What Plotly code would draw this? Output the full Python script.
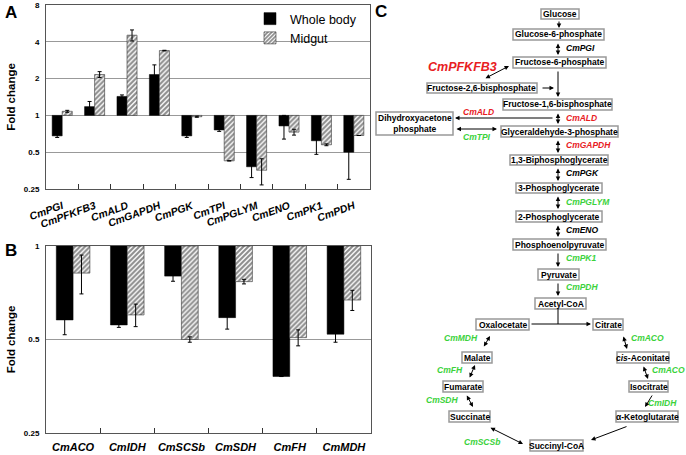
import numpy as np
import plotly.graph_objects as go

# ---- data: panel A (glycolysis genes) ----
genes_a = ["CmPGI", "CmPFKFB3", "CmALD", "CmGAPDH", "CmPGK",
           "CmTPI", "CmPGLYM", "CmENO", "CmPK1", "CmPDH"]
whole_a = [0.68, 1.18, 1.43, 2.16, 0.68, 0.76, 0.38, 0.82, 0.62, 0.50]
whole_a_err = [0.02, 0.12, 0.04, 0.43, 0.02, 0.02, 0.07, 0.18, 0.14, 0.20]
midgut_a = [1.08, 2.16, 4.53, 3.39, 0.975, 0.425, 0.356, 0.73, 0.575, 0.685]
midgut_a_err = [0.02, 0.12, 0.47, 0.02, 0.01, 0.0, 0.086, 0.04, 0.01, 0.0]

# ---- data: panel B (TCA genes) ----
genes_b = ["CmACO", "CmIDH", "CmSCSb", "CmSDH", "CmFH", "CmMDH"]
whole_b = [0.578, 0.557, 0.80, 0.588, 0.38, 0.52]
whole_b_err = [0.06, 0.01, 0.03, 0.048, 0.0, 0.03]
midgut_b = [0.818, 0.60, 0.50, 0.768, 0.507, 0.67]
midgut_b_err = [0.117, 0.05, 0.01, 0.013, 0.03, 0.05]

fold_ticks = [0.25, 0.5, 1, 2, 4, 8]

# ---- panel C: pathway nodes (label -> box in pixels x0, x1, y0, y1) ----
nodes = {
    "Glucose": (541, 579, 9, 19),
    "Glucose-6-phosphate": (513, 604, 29, 40),
    "Fructose-6-phosphate": (513, 606, 57, 68),
    "Fructose-2,6-bisphosphate": (427, 537, 83, 93),
    "Fructose-1,6-bisphosphate": (503, 612, 99, 110),
    "Dihydroxyacetone<br>phosphate": (376, 453, 112, 135),
    "Glyceraldehyde-3-phosphate": (501, 618, 126, 137),
    "1,3-Biphosphoglycerate": (510, 608, 155, 165),
    "3-Phosphoglycerate": (516, 602, 183, 193),
    "2-Phosphoglycerate": (516, 602, 211, 222),
    "Phosphoenolpyruvate": (513, 606, 239, 250),
    "Pyruvate": (538, 579, 269, 280),
    "Acetyl-CoA": (535, 586, 298, 309),
    "Oxalocetate": (476, 529, 319, 330),
    "Citrate": (593, 623, 319, 330),
    "Malate": (462, 492, 352, 363),
    "<i>cis</i>-Aconitate": (617, 669, 352, 363),
    "Fumarate": (443, 483, 381, 392),
    "Isocitrate": (629, 668, 381, 392),
    "Succinate": (449, 490, 411, 422),
    "α-Ketoglutarate": (616, 678, 411, 422),
    "Succinyl-CoA": (530, 583, 440, 451),
}

RED = "#e8201f"
GREEN = "#3bd23b"
# enzyme label, x, y, anchor, colour, size
enzymes = [
    ("CmPGI", 564, 48, "left", "black", 8.5),
    ("CmPFKFB3", 462, 67, "center", RED, 12.5),
    ("CmALD", 478, 112, "center", RED, 8.5),
    ("CmALD", 564, 118, "left", RED, 8.5),
    ("CmTPI", 477, 137, "center", GREEN, 8.5),
    ("CmGAPDH", 564, 145, "left", RED, 8.5),
    ("CmPGK", 564, 173, "left", "black", 8.5),
    ("CmPGLYM", 564, 202, "left", GREEN, 8.5),
    ("CmENO", 564, 230, "left", "black", 8.5),
    ("CmPK1", 564, 258, "left", GREEN, 8.5),
    ("CmPDH", 564, 287, "left", GREEN, 8.5),
    ("CmMDH", 461, 338, "center", GREEN, 8.5),
    ("CmFH", 450, 370, "center", GREEN, 8.5),
    ("CmSDH", 442, 400, "center", GREEN, 8.5),
    ("CmSCSb", 482, 442, "center", GREEN, 8.5),
    ("CmIDH", 662, 403, "center", GREEN, 8.5),
    ("CmACO", 647, 338, "center", GREEN, 8.5),
    ("CmACO", 668, 370, "center", GREEN, 8.5),
]

# arrows: tail x, tail y, head x, head y, double-headed
arrows = [
    (559, 20, 559, 28, False),
    (558, 42, 558, 55, True),
    (558, 70, 558, 97, False),
    (541, 88, 554, 88, False),
    (484, 79, 509, 66, True),
    (558, 112, 558, 124, True),
    (554, 118, 455, 118, False),
    (455, 129, 497, 129, True),
    (558, 139, 558, 153, True),
    (558, 167, 558, 181, True),
    (558, 195, 558, 209, True),
    (558, 224, 558, 237, True),
    (558, 252, 558, 267, False),
    (558, 282, 558, 296, False),
    (530, 324, 591, 324, False),
    (483, 348, 490, 336, True),
    (469, 379, 475, 365, True),
    (466, 394, 473, 407, True),
    (489, 427, 523, 444, True),
    (628, 426, 591, 440, False),
    (653, 394, 645, 407, False),
    (643, 365, 648, 379, True),
    (623, 335, 627, 349, True),
]

FONT = "Liberation Sans, Arial, sans-serif"
W, H = 686, 455


def px(x):
    return x / W


def py(y):
    return 1 - y / H


fig = go.Figure()

hatch = dict(shape="/", fgcolor="#1a1a1a", bgcolor="white", size=3.5, solidity=0.6)


def add_pair(cats, wb, wb_e, mg, mg_e, xa, ya, legend):
    fig.add_trace(go.Bar(
        x=cats, y=np.array(wb) - 1, base=1, name="Whole body",
        marker=dict(color="black", line=dict(color="black", width=0.5)),
        error_y=dict(type="data", array=wb_e, color="black", thickness=1, width=2),
        xaxis=xa, yaxis=ya, showlegend=legend))
    fig.add_trace(go.Bar(
        x=cats, y=np.array(mg) - 1, base=1, name="Midgut",
        marker=dict(color="white", pattern=hatch, line=dict(color="#333", width=0.6)),
        error_y=dict(type="data", array=mg_e, color="black", thickness=1, width=2),
        xaxis=xa, yaxis=ya, showlegend=legend))


add_pair(genes_a, whole_a, whole_a_err, midgut_a, midgut_a_err, "x", "y", True)
add_pair(genes_b, whole_b, whole_b_err, midgut_b, midgut_b_err, "x2", "y2", False)

xcommon = dict(type="category", showline=True, mirror=True, linecolor="#555",
               ticks="inside", tickson="boundaries", ticklen=5, tickcolor="#333",
               showgrid=False, automargin=False)
ycommon = dict(type="log", showline=True, mirror=True, linecolor="#555",
               showgrid=True, gridcolor="#999", gridwidth=1, automargin=False,
               tickvals=fold_ticks, ticktext=[str(t) for t in fold_ticks],
               tickfont=dict(size=8, weight="bold", family=FONT), ticks="",
               ticklabelstandoff=4,
               title=dict(text="Fold change", font=dict(size=11.5, weight="bold"), standoff=5))

fig.update_layout(
    width=W, height=H,
    margin=dict(l=0, r=0, t=0, b=0, autoexpand=False),
    paper_bgcolor="white", plot_bgcolor="white",
    font=dict(family=FONT, color="black"),
    barmode="group", bargroupgap=0, bargap=0.38,
    xaxis=dict(xcommon, domain=[px(46), px(370)], anchor="y", tickangle=-20,
               ticklabelstandoff=6,
               tickfont=dict(size=10.5, weight="bold", style="italic")),
    yaxis=dict(ycommon, domain=[py(189), py(5)], anchor="x",
               range=[np.log10(0.25), np.log10(8)]),
    xaxis2=dict(xcommon, domain=[px(46), px(371)], anchor="y2", tickangle=0,
                ticklabelstandoff=4,
                tickfont=dict(size=11, weight="bold", style="italic")),
    yaxis2=dict(ycommon, domain=[py(433), py(246)], anchor="x2",
                range=[np.log10(0.25), 0]),
    legend=dict(x=px(250), y=py(4), xanchor="left", yanchor="top",
                font=dict(size=12.5), bgcolor="rgba(0,0,0,0)", itemwidth=30,
                tracegroupgap=0),
)

ann = []
shapes = []


def label(text, lx, ly, anchor="center", **font):
    ann.append(dict(x=px(lx), y=py(ly), xref="paper", yref="paper", text=text,
                    showarrow=False, xanchor=anchor, yanchor="middle", font=font))


# panel letters
for letter, lx, ly in [("A", 11, 12), ("B", 11, 250), ("C", 381, 11)]:
    label(letter, lx, ly, size=17, weight="bold")

for name, (x0, x1, y0, y1) in nodes.items():
    shapes.append(dict(type="rect", xref="paper", yref="paper",
                       x0=px(x0), x1=px(x1), y0=py(y0), y1=py(y1),
                       line=dict(color="#999", width=1.5), fillcolor="white", layer="below"))
    label(name, (x0 + x1) / 2, (y0 + y1) / 2, size=8.5, weight="bold")

for text, lx, ly, anchor, col, size in enzymes:
    label(text, lx, ly, anchor, size=size, weight="bold", style="italic", color=col)

for tx, ty, hx, hy, double in arrows:
    ann.append(dict(x=px(hx), y=py(hy), ax=tx - hx, ay=ty - hy, xref="paper", yref="paper",
                    text="", showarrow=True, arrowhead=2, arrowsize=0.9, arrowwidth=1,
                    arrowcolor="black", arrowside="end+start" if double else "end",
                    startarrowhead=2, startarrowsize=0.9, standoff=0, startstandoff=0))

# stem from acetyl-CoA down to the oxaloacetate -> citrate line
shapes.append(dict(type="line", xref="paper", yref="paper", x0=px(558), x1=px(558),
                   y0=py(309), y1=py(324), line=dict(color="black", width=1)))

fig.update_layout(annotations=ann, shapes=shapes)

fig.write_html("out.html", config={"displayModeBar": False},
               post_script="document.body.style.margin='0';")
